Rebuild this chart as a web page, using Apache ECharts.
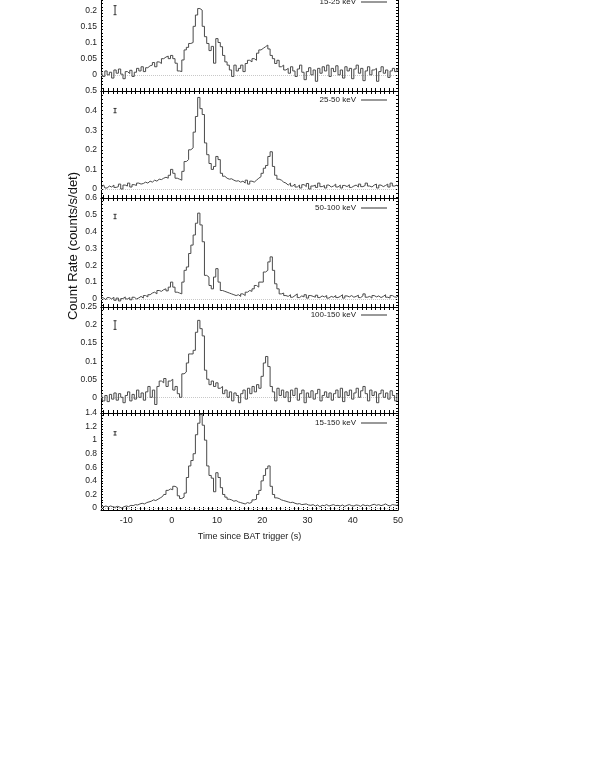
<!DOCTYPE html>
<html>
<head>
<meta charset="utf-8">
<script src="https://cdn.jsdelivr.net/npm/echarts@6/dist/echarts.min.js"></script>
<style>
  html, body { margin: 0; padding: 0; background: #fff; }
  #chart { width: 595px; height: 770px; }
</style>
</head>
<body>
<div id="chart"></div>
<script>
// light curve bins: first bin centre and bin width (s)
const T0 = -15.5;
const BIN = 0.5;

const bands = ['15-25 keV', '25-50 keV', '50-100 keV', '100-150 keV', '15-150 keV'];

// count rates per 0.5 s bin, t = -15.5 ... 50
const rate15_25 = [
  0.01, -0.005,
  0.012, 0.0, 0.008, -0.01, 0.015, 0.005, 0.018, 0.002, -0.012, 0.01, 0.004, 0.014, -0.005, 0.008, 0.02, 0.012, 0.025, 0.01, 0.022, 0.028,
  0.03, 0.038, 0.025, 0.04, 0.035, 0.05, 0.055, 0.058, 0.05, 0.06, 0.05, 0.036, 0.012, 0.01, 0.046, 0.077, 0.085, 0.097, 0.1, 0.15,
  0.185, 0.205, 0.2, 0.15, 0.118, 0.097, 0.075, 0.088, 0.036, 0.112, 0.1, 0.087, 0.06, 0.04, 0.03, 0.015, -0.005, 0.03, 0.012, 0.02,
  0.03, 0.01, 0.035, 0.045, 0.04, 0.05, 0.045, 0.067, 0.077, 0.082, 0.087, 0.092, 0.08, 0.06, 0.05, 0.035, 0.045, 0.025, 0.03, 0.015,
  0.02, 0.005, 0.025, 0.012, -0.005, 0.018, 0.03, 0.008, -0.015, 0.01, 0.022, 0.0, 0.015, -0.02, 0.02, 0.005, 0.025, 0.012, 0.03, -0.005,
  0.02, 0.01, 0.028, 0.0, 0.015, -0.01, 0.025, 0.012, 0.02, -0.012, 0.018, 0.03, 0.005, 0.02, -0.018, 0.012, 0.025, 0.0, 0.015, 0.02,
  -0.02, 0.01, 0.025, 0.005, 0.015, -0.008, 0.012, 0.02, 0.01, 0.018
];
const rate25_50 = [
  0.01, 0.02,
  0.005, 0.015, 0.01, 0.02, 0.008, 0.012, 0.025, 0.0, 0.02, 0.015, 0.03, 0.01, 0.022, 0.018, 0.03, 0.025, 0.028, 0.035, 0.03, 0.04,
  0.035, 0.045, 0.04, 0.05, 0.048, 0.055, 0.06, 0.055, 0.07, 0.1, 0.08, 0.055, 0.05, 0.045, 0.09, 0.14, 0.15, 0.2, 0.21, 0.29,
  0.37, 0.467, 0.41, 0.38, 0.235, 0.175, 0.13, 0.1, 0.115, 0.166, 0.15, 0.08, 0.065, 0.055, 0.05, 0.052, 0.045, 0.04, 0.042, 0.035,
  0.04, 0.03, 0.045, 0.025, 0.04, 0.035, 0.045, 0.055, 0.063, 0.08, 0.106, 0.12, 0.166, 0.19, 0.115, 0.07, 0.05, 0.045, 0.035, 0.03,
  0.02, 0.03, 0.015, 0.025, 0.01, 0.02, 0.005, 0.022, 0.012, 0.028, 0.0, 0.015, 0.02, 0.008, 0.03, 0.012, 0.018, 0.005, 0.02, 0.01,
  0.015, 0.025, 0.01, 0.02, 0.005, 0.018, 0.012, 0.022, 0.008, 0.015, 0.02, 0.01, 0.025, 0.012, 0.018, 0.03, 0.015, 0.01, 0.02, 0.025,
  0.005, 0.02, 0.012, 0.018, 0.025, 0.01, 0.03, 0.015, 0.02, 0.012
];
const rate50_100 = [
  0.01, 0.005,
  -0.005, 0.008, 0.0, 0.01, -0.008, 0.005, -0.012, 0.002, 0.012, 0.0, 0.008, -0.005, 0.01, 0.0, 0.006, 0.015, 0.005, 0.02, 0.012, 0.025,
  0.035, 0.04, 0.03, 0.05, 0.045, 0.055, 0.06, 0.048, 0.07, 0.1, 0.07, 0.04, 0.035, 0.03, 0.1, 0.17, 0.19, 0.27, 0.32, 0.38,
  0.45, 0.51, 0.44, 0.34, 0.14, 0.13, 0.08, 0.06, 0.13, 0.18, 0.1, 0.05, 0.045, 0.04, 0.035, 0.03, 0.025, 0.02, 0.025, 0.015,
  0.03, 0.02, 0.04, 0.05, 0.045, 0.06, 0.08, 0.07, 0.1, 0.1, 0.16, 0.17, 0.22, 0.25, 0.17, 0.09, 0.06, 0.03, 0.035, 0.02,
  0.015, 0.025, 0.01, 0.02, 0.03, 0.008, 0.018, 0.012, 0.025, 0.005, 0.02, 0.015, 0.01, 0.022, 0.008, 0.018, 0.012, 0.02, 0.005, 0.015,
  0.01, 0.02, 0.008, 0.015, 0.025, 0.005, 0.018, 0.012, 0.02, 0.01, 0.015, 0.022, 0.008, 0.018, 0.03, 0.01, 0.015, 0.005, 0.02, 0.012,
  0.018, 0.008, 0.015, 0.025, 0.01, 0.005, 0.02, 0.012, 0.01, 0.018
];
const rate100_150 = [
  0.01, -0.01,
  0.005, -0.012, 0.008, -0.005, 0.012, -0.008, 0.01, 0.0, -0.015, 0.005, 0.015, -0.01, 0.008, -0.005, 0.02, 0.0, 0.012, -0.008, 0.015, 0.03,
  0.0, 0.02, -0.02, 0.03, 0.045, 0.04, 0.052, 0.03, 0.045, 0.05, 0.02, 0.03, 0.01, 0.0, 0.065, 0.07, 0.095, 0.12, 0.12, 0.13,
  0.18, 0.213, 0.19, 0.17, 0.075, 0.05, 0.035, 0.045, 0.03, 0.04, 0.025, 0.03, 0.01, 0.02, 0.0, 0.015, -0.01, 0.012, 0.005, -0.015,
  0.01, 0.02, -0.005, 0.025, 0.01, 0.03, 0.015, 0.035, 0.025, 0.058, 0.095, 0.113, 0.085, 0.03, 0.015, -0.01, 0.025, 0.005, 0.02, 0.0,
  0.015, -0.012, 0.02, 0.005, 0.025, -0.008, 0.01, 0.02, -0.015, 0.012, 0.0, 0.018, -0.005, 0.01, 0.022, -0.01, 0.005, 0.015, 0.0, 0.012,
  -0.008, 0.01, 0.02, 0.0, 0.025, -0.012, 0.015, 0.005, 0.02, -0.005, 0.012, 0.025, 0.0, 0.018, 0.03, 0.01, -0.01, 0.02, 0.005, 0.015,
  -0.015, 0.01, 0.02, 0.0, 0.012, -0.005, 0.018, 0.005, -0.01, 0.01
];
const rate15_150 = [
  0.04, 0.02,
  0.03, 0.015, 0.03, 0.02, 0.01, 0.025, 0.015, 0.0, 0.02, 0.03, 0.02, 0.04, 0.035, 0.05, 0.045, 0.06, 0.07, 0.06, 0.08, 0.09,
  0.1, 0.12, 0.11, 0.13, 0.15, 0.17, 0.2, 0.26, 0.28, 0.27, 0.32, 0.3, 0.18, 0.14, 0.16, 0.22, 0.45, 0.62, 0.7, 0.8,
  1.08, 1.25, 1.38, 1.22, 1.0, 0.62, 0.48, 0.44, 0.24, 0.52, 0.45, 0.3, 0.2, 0.16, 0.13, 0.12, 0.1, 0.11, 0.09, 0.08,
  0.07, 0.06, 0.08, 0.07, 0.09, 0.12, 0.13, 0.2, 0.26, 0.4, 0.48, 0.58, 0.62, 0.32, 0.2, 0.15, 0.14, 0.12, 0.11, 0.1,
  0.09, 0.08, 0.085, 0.07, 0.06, 0.065, 0.05, 0.055, 0.06, 0.045, 0.04, 0.05, 0.03, 0.045, 0.02, 0.04, 0.035, 0.05, 0.03, 0.04,
  0.05, 0.035, 0.04, 0.03, 0.045, 0.025, 0.04, 0.05, 0.035, 0.03, 0.045, 0.04, 0.025, 0.05, 0.035, 0.04, 0.03, 0.045, 0.055, 0.04,
  0.05, 0.035, 0.045, 0.06, 0.04, 0.03, 0.05, 0.045, 0.04, 0.05
];
const rates = [rate15_25, rate25_50, rate50_100, rate100_150, rate15_150];

// tick labels
const xLabels = [-10, 0, 10, 20, 30, 40, 50];
const yLabels15_25 = [0, 0.05, 0.1, 0.15, 0.2, 0.25];
const yLabels25_50 = [0, 0.1, 0.2, 0.3, 0.4, 0.5];
const yLabels50_100 = [0, 0.1, 0.2, 0.3, 0.4, 0.5, 0.6];
const yLabels100_150 = [0, 0.05, 0.1, 0.15, 0.2, 0.25];
const yLabels15_150 = [0, 0.2, 0.4, 0.6, 0.8, 1, 1.2, 1.4];
const yLabels = [yLabels15_25, yLabels25_50, yLabels50_100, yLabels100_150, yLabels15_150];

// typical error bar drawn in the upper left of each panel
const errT = -12.5;
const errCenter = [0.2, 0.4, 0.49, 0.2, 1.1];
const errHalf = [0.014, 0.011, 0.013, 0.012, 0.025];

// panel layout
const panelTop = [-6, 91, 198, 307, 413];
const panelBottom = [91, 198, 307, 413, 510];
const yMin = [-0.05, -0.046, -0.048, -0.0435, -0.029];
const yMax = [0.25, 0.5, 0.6, 0.25, 1.4];
const minorStep = [0.01, 0.02, 0.02, 0.01, 0.04];
const legendMid = [2, 100, 208, 315, 423];
const X_MIN = -15.6, X_MAX = 50;

const secTicks = [];
for (let s = -15; s <= 50; s++) secTicks.push(s);

const fineTicks = (i) => {
  const out = [];
  for (let v = Math.ceil(yMin[i] / minorStep[i]) * minorStep[i]; v <= yMax[i] + 1e-9; v += minorStep[i]) {
    out.push(+v.toFixed(4));
  }
  return out;
};

const FONT = 'Liberation Sans, Arial, sans-serif';
const LINE = '#4a4a4a';

const option = {
  animation: false,
  textStyle: { fontFamily: FONT },
  grid: [], xAxis: [], yAxis: [], series: [], legend: [],
  graphic: [{
    type: 'text', x: 73, y: 246, rotation: Math.PI / 2,
    style: {
      text: 'Count Rate (counts/s/det)', font: '13px ' + FONT, fill: '#111',
      textAlign: 'center', textVerticalAlign: 'middle'
    }
  }]
};

for (let i = 0; i < 5; i++) {
  option.grid.push({
    left: 101, right: 197, top: panelTop[i], height: panelBottom[i] - panelTop[i],
    outerBoundsMode: 'none'
  });
  const axisLine = { onZero: false, lineStyle: { color: '#000', width: 1 } };
  const tickStyle = { color: '#000', width: 1 };
  option.xAxis.push({
    gridIndex: i, type: 'value', min: X_MIN, max: X_MAX, position: 'bottom',
    axisLine,
    axisTick: { inside: true, length: 3, customValues: secTicks, lineStyle: tickStyle },
    axisLabel: { show: i === 4, customValues: xLabels, fontSize: 9, color: '#222', margin: 6 },
    splitLine: { show: false },
    name: i === 4 ? 'Time since BAT trigger (s)' : '',
    nameLocation: 'middle', nameGap: 22,
    nameTextStyle: { fontSize: 9, color: '#222' }
  }, {
    gridIndex: i, type: 'value', min: X_MIN, max: X_MAX, position: 'top',
    axisLine,
    axisTick: { inside: true, length: 3, customValues: secTicks, lineStyle: tickStyle },
    axisLabel: { show: false },
    splitLine: { show: false }
  });
  option.yAxis.push({
    gridIndex: i, type: 'value', min: yMin[i], max: yMax[i], position: 'left',
    axisLine,
    axisTick: { inside: true, length: 2, customValues: fineTicks(i), lineStyle: tickStyle },
    axisLabel: { customValues: yLabels[i], fontSize: 8.5, color: '#222', margin: 4 },
    splitLine: { show: false }
  }, {
    gridIndex: i, type: 'value', min: yMin[i], max: yMax[i], position: 'right',
    axisLine,
    axisTick: { inside: true, length: 2, customValues: fineTicks(i), lineStyle: tickStyle },
    axisLabel: { show: false },
    splitLine: { show: false }
  });

  option.series.push({
    name: bands[i], type: 'line', step: 'middle', symbol: 'none',
    xAxisIndex: 2 * i, yAxisIndex: 2 * i,
    data: rates[i].map((v, k) => [T0 + k * BIN, v]),
    lineStyle: { color: LINE, width: 1 },
    itemStyle: { color: LINE },
    z: 3,
    markLine: {
      silent: true, symbol: 'none', label: { show: false },
      lineStyle: { color: '#c8c8c8', type: 'dotted', width: 1 },
      data: [{ yAxis: 0 }], z: 1
    }
  });

  option.series.push({
    type: 'custom', xAxisIndex: 2 * i, yAxisIndex: 2 * i,
    data: [[errT, errCenter[i] - errHalf[i], errCenter[i] + errHalf[i]]],
    renderItem: (params, api) => {
      const lo = api.coord([api.value(0), api.value(1)]);
      const hi = api.coord([api.value(0), api.value(2)]);
      const st = { stroke: '#333', lineWidth: 1 };
      return {
        type: 'group', children: [
          { type: 'line', shape: { x1: lo[0], y1: lo[1], x2: hi[0], y2: hi[1] }, style: st },
          { type: 'line', shape: { x1: lo[0] - 1.5, y1: lo[1], x2: lo[0] + 1.5, y2: lo[1] }, style: st },
          { type: 'line', shape: { x1: hi[0] - 1.5, y1: hi[1], x2: hi[0] + 1.5, y2: hi[1] }, style: st }
        ]
      };
    }
  });

  option.legend.push({
    data: [{ name: bands[i], icon: 'rect' }], right: 208, top: legendMid[i] - 5,
    align: 'right', itemWidth: 26, itemHeight: 1, padding: 0,
    itemStyle: { color: '#333' },
    textStyle: { fontSize: 8, color: '#222', lineHeight: 10 },
    selectedMode: false
  });
}

const chart = echarts.init(document.getElementById('chart'));
chart.setOption(option);
</script>
</body>
</html>
